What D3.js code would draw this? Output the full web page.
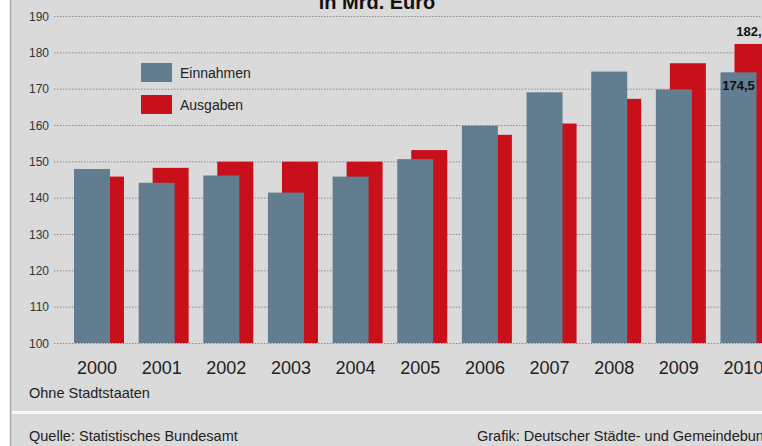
<!DOCTYPE html>
<html>
<head>
<meta charset="utf-8">
<script src="https://cdn.jsdelivr.net/npm/d3@7"></script>
<style>
  body { margin: 0; background: #fff; }
  svg { display: block; font-family: "Liberation Sans", Arial, sans-serif; }
</style>
</head>
<body>
<div id="chart"></div>
<script>
// Kommunalfinanzen, in Mrd. Euro
var years = ["2000", "2001", "2002", "2003", "2004", "2005", "2006", "2007", "2008", "2009", "2010"];
var einnahmen = [147.9, 144.1, 146.1, 141.4, 145.8, 150.6, 159.8, 169.0, 174.7, 169.8, 174.5];
var ausgaben = [145.8, 148.2, 149.9, 149.9, 149.9, 153.1, 157.3, 160.4, 167.2, 177.0, 182.3];
var yTicks = [100, 110, 120, 130, 140, 150, 160, 170, 180, 190];
var seriesNames = ["Einnahmen", "Ausgaben"];

var W = 762, H = 446;
var blue = "#617d8f", red = "#c8101a", panel = "#dadada";

var svg = d3.select("#chart").append("svg").attr("width", W).attr("height", H);

// Hintergrund
svg.append("rect").attr("x", 11).attr("y", 0).attr("width", W - 11).attr("height", H).attr("fill", panel);
svg.append("line").attr("x1", 10.5).attr("x2", 10.5).attr("y1", 0).attr("y2", H)
    .attr("stroke", "#aaa").attr("stroke-width", 1.5);
svg.append("rect").attr("x", 12).attr("y", 411).attr("width", W - 12).attr("height", 3).attr("fill", "#fafafa");

var y = d3.scaleLinear().domain([100, 190]).range([343, 16]);
var x = d3.scaleBand().domain(years).range([74, 770.5]).paddingInner(0.2266).paddingOuter(0);
var barW = x.bandwidth() * 0.72;
var shift = x.bandwidth() - barW;

// Gitterlinien
var grid = svg.append("g");
grid.selectAll("line").data(yTicks).enter().append("line")
    .attr("x1", 54).attr("x2", W)
    .attr("y1", function(d){ return y(d) + 0.5 })
    .attr("y2", function(d){ return y(d) + 0.5 })
    .attr("stroke", "#8c8c8c").attr("stroke-width", 1)
    .attr("stroke-dasharray", "1.5,1.5");

var yAxis = d3.axisLeft(y).tickValues(yTicks).tickSize(0).tickPadding(0);
var ya = svg.append("g").attr("transform", "translate(49,0)").call(yAxis);
ya.select(".domain").remove();
ya.selectAll("text").attr("font-size", 12).attr("fill", "#333")
    .attr("font-family", "'Liberation Sans', Arial, sans-serif").attr("dy", "0.35em");

// Balken: Ausgaben hinten, Einnahmen vorne
svg.append("g").selectAll("rect").data(ausgaben).enter().append("rect")
    .attr("x", function(d, i){ return x(years[i]) + shift })
    .attr("y", function(d){ return y(d) })
    .attr("width", barW)
    .attr("height", function(d){ return y(100) - y(d) })
    .attr("fill", red);

svg.append("g").selectAll("rect").data(einnahmen).enter().append("rect")
    .attr("x", function(d, i){ return x(years[i]) })
    .attr("y", function(d){ return y(d) })
    .attr("width", barW)
    .attr("height", function(d){ return y(100) - y(d) })
    .attr("fill", blue);

// Werte 2010
var last = years.length - 1;
svg.append("text")
    .attr("x", x(years[last]) + shift + barW / 2).attr("y", y(ausgaben[last]) - 8)
    .attr("text-anchor", "middle").attr("font-size", 13).attr("font-weight", "bold").attr("fill", "#111")
    .text(d3.format(".1f")(ausgaben[last]).replace(".", ","));
svg.append("text")
    .attr("x", x(years[last]) + barW / 2).attr("y", y(einnahmen[last]) + 18)
    .attr("text-anchor", "middle").attr("font-size", 13).attr("font-weight", "bold").attr("fill", "#111")
    .text(d3.format(".1f")(einnahmen[last]).replace(".", ","));

// Jahre
var xAxis = d3.axisBottom(x).tickSize(0).tickPadding(0);
var xa = svg.append("g").attr("transform", "translate(-2,361)").call(xAxis);
xa.select(".domain").remove();
xa.selectAll("text").attr("font-size", 18).attr("fill", "#222")
    .attr("font-family", "'Liberation Sans', Arial, sans-serif").attr("dy", "0.71em");

// Titel
svg.append("text").attr("x", 377).attr("y", 9).attr("text-anchor", "middle")
    .attr("font-size", 20).attr("font-weight", "bold").attr("fill", "#111").text("in Mrd. Euro");

// Legende
var legend = svg.append("g").selectAll("g").data(seriesNames).enter().append("g")
    .attr("transform", function(d, i){ return "translate(141," + (63 + i * 32) + ")" });
legend.append("rect").attr("width", 31).attr("height", 19)
    .attr("fill", function(d, i){ return i == 0 ? blue : red });
legend.append("text").attr("x", 39).attr("y", 14.5).attr("font-size", 14).attr("fill", "#222")
    .text(function(d){ return d });

// Fußnoten
svg.append("text").attr("x", 29).attr("y", 398).attr("font-size", 14.5).attr("fill", "#222").text("Ohne Stadtstaaten");
svg.append("text").attr("x", 29).attr("y", 441).attr("font-size", 14.5).attr("fill", "#222").text("Quelle: Statistisches Bundesamt");
svg.append("text").attr("x", 477).attr("y", 441).attr("font-size", 14.5).attr("fill", "#222").text("Grafik: Deutscher Städte- und Gemeindebund");
</script>
</body>
</html>
